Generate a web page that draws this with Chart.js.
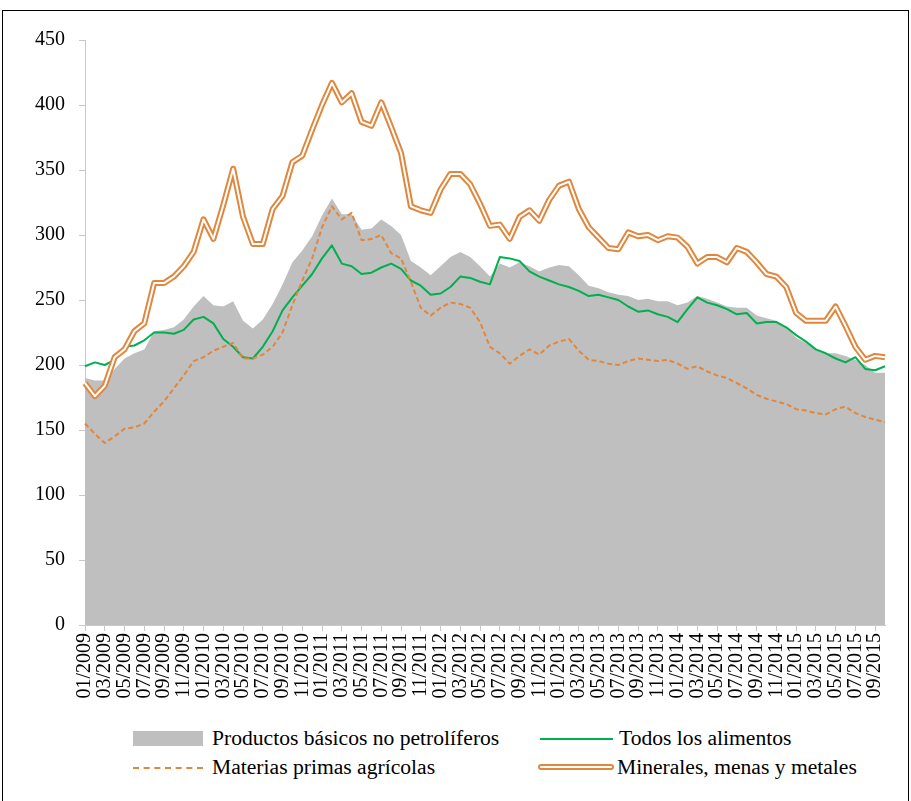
<!DOCTYPE html>
<html>
<head>
<meta charset="utf-8">
<script src="https://cdn.jsdelivr.net/npm/chart.js@4.4.0/dist/chart.umd.min.js"></script>
<style>
  body { margin: 0; background: #fff; font-family: "Liberation Serif", "Times New Roman", serif; }
  #frame { position: absolute; left: 2px; top: 10px; width: 905px; height: 800px; border: 1px solid #000; border-bottom: none; }
  #wrap { position: absolute; left: 0; top: 0; width: 911px; height: 715px; }
  .item { position: absolute; font-size: 21.6px; color: #000; line-height: 22px; white-space: nowrap; }
  .sym { position: absolute; left: 0; top: 11px; width: 70px; }
  .txt { position: absolute; left: 79px; top: 0; }
</style>
</head>
<body>
<div id="frame"></div>
<div id="wrap"><canvas id="chart"></canvas></div>
<div id="legend"></div>
<script>
// categories: monthly, 01/2009 .. 10/2015
const years = [2009, 2010, 2011, 2012, 2013, 2014, 2015];
const lastMonth2015 = 10;

// Productos básicos no petrolíferos (area)
const noPetroleo = [
  190,188,188,197,205,209,212,226,227,229,235,245,
  253,246,245,249,234,228,235,247,262,279,288,299,
  315,328,316,316,304,305,312,307,300,280,275,269,
  276,283,287,283,276,268,278,275,279,276,272,275,
  277,276,269,261,259,256,254,253,250,251,249,249,
  246,248,253,251,248,245,244,244,238,236,234,229,
  221,217,212,209,209,207,204,200,194,194
];
// Todos los alimentos
const alimentos = [
  199,202,200,204,214,215,219,225,225,224,227,235,
  237,232,220,214,206,205,214,226,242,252,261,270,
  282,292,278,276,270,271,275,278,274,265,261,254,
  255,260,268,267,264,262,283,282,280,272,268,265,
  262,260,257,253,254,252,250,245,241,242,239,237,
  233,243,252,248,246,243,239,240,232,233,233,229,
  223,218,212,209,205,202,206,197,196,199
];
// Materias primas agrícolas
const agricolas = [
  155,147,140,145,151,152,155,164,172,182,192,203,
  206,211,214,217,205,205,208,214,225,246,265,282,
  306,322,312,317,296,297,300,286,282,264,244,238,
  244,248,247,244,233,214,209,201,207,212,208,215,
  218,220,211,204,203,201,200,203,205,204,203,204,
  201,197,199,195,192,190,186,182,177,174,172,170,
  166,165,163,162,166,168,163,160,158,156
];
// Minerales, menas y metales
const minerales = [
  186,176,184,206,212,226,232,263,263,268,276,287,
  312,297,323,351,314,293,293,320,330,356,361,381,
  400,417,402,409,387,384,402,383,363,322,319,317,
  335,347,347,339,324,307,308,297,314,319,311,327,
  338,341,320,306,298,290,289,302,299,300,296,299,
  298,291,278,283,283,279,290,287,279,270,268,260,
  240,234,234,234,245,230,214,204,207,206
];

const labels = [];
years.forEach(y => {
  const n = y === 2015 ? lastMonth2015 : 12;
  for (let m = 1; m <= n; m++) labels.push(String(m).padStart(2, '0') + '/' + y);
});

const ORANGE = '#e0873d';
const GREEN = '#00b050';
const GREY = '#bfbfbf';
const AXIS = '#c8c8c8';
const FONT = '"Liberation Serif", "Times New Roman", serif';

new Chart(document.getElementById('chart'), {
  type: 'line',
  data: {
    labels: labels,
    datasets: [
      { label: 'Minerales inner', data: minerales, borderColor: '#fff', borderWidth: 2, order: 0 },
      { label: 'Minerales, menas y metales', data: minerales, borderColor: ORANGE, borderWidth: 6, order: 1 },
      { label: 'Materias primas agrícolas', data: agricolas, borderColor: ORANGE, borderWidth: 2, borderDash: [5, 3], order: 2 },
      { label: 'Todos los alimentos', data: alimentos, borderColor: GREEN, borderWidth: 2, order: 3 },
      { label: 'Productos básicos no petrolíferos', data: noPetroleo, borderWidth: 0, borderColor: GREY,
        backgroundColor: GREY, fill: 'origin', order: 4 }
    ]
  },
  options: {
    responsive: true,
    maintainAspectRatio: false,
    animation: false,
    layout: { padding: { top: 40, right: 24, left: 0, bottom: 0 } },
    elements: {
      point: { radius: 0 },
      line: { tension: 0, borderJoinStyle: 'round', borderCapStyle: 'butt' }
    },
    plugins: { legend: { display: false }, tooltip: { enabled: false } },
    scales: {
      x: {
        offset: false,
        afterFit: s => { s.height = 90; },
        grid: {
          drawOnChartArea: false, tickLength: 6,
          color: c => (c.index % 2 === 0 ? AXIS : 'rgba(0,0,0,0)')
        },
        border: { color: AXIS },
        ticks: {
          autoSkip: false, maxRotation: 90, minRotation: 90, padding: 2,
          color: '#000', font: { family: FONT, size: 20 },
          callback: (v, i) => (i % 2 === 0 ? labels[i] : '')
        }
      },
      y: {
        min: 0, max: 450,
        afterFit: s => { s.width = 85; },
        grid: { drawOnChartArea: false, tickLength: 6, color: AXIS },
        border: { color: AXIS },
        ticks: { stepSize: 50, padding: 14, color: '#000', font: { family: FONT, size: 20 } }
      }
    }
  }
});

// legend
const legendItems = [
  { text: 'Productos básicos no petrolíferos', x: 133, y: 727, sym: 'background:' + GREY + ';height:15px;top:4px;' },
  { text: 'Todos los alimentos', x: 540, y: 727, sym: 'border-top:2px solid ' + GREEN + ';width:73px;' },
  { text: 'Materias primas agrícolas', x: 133, y: 756, sym: 'border-top:2px dashed ' + ORANGE + ';' },
  { text: 'Minerales, menas y metales', x: 538, y: 756,
    sym: 'height:2px;top:8px;background:#fff;border:2px solid ' + ORANGE + ';border-radius:3px;width:72px;' }
];
const lg = document.getElementById('legend');
legendItems.forEach(it => {
  const d = document.createElement('div');
  d.className = 'item';
  d.style.left = it.x + 'px';
  d.style.top = it.y + 'px';
  d.innerHTML = '<div class="sym" style="' + it.sym + '"></div><div class="txt">' + it.text + '</div>';
  lg.appendChild(d);
});
</script>
</body>
</html>
